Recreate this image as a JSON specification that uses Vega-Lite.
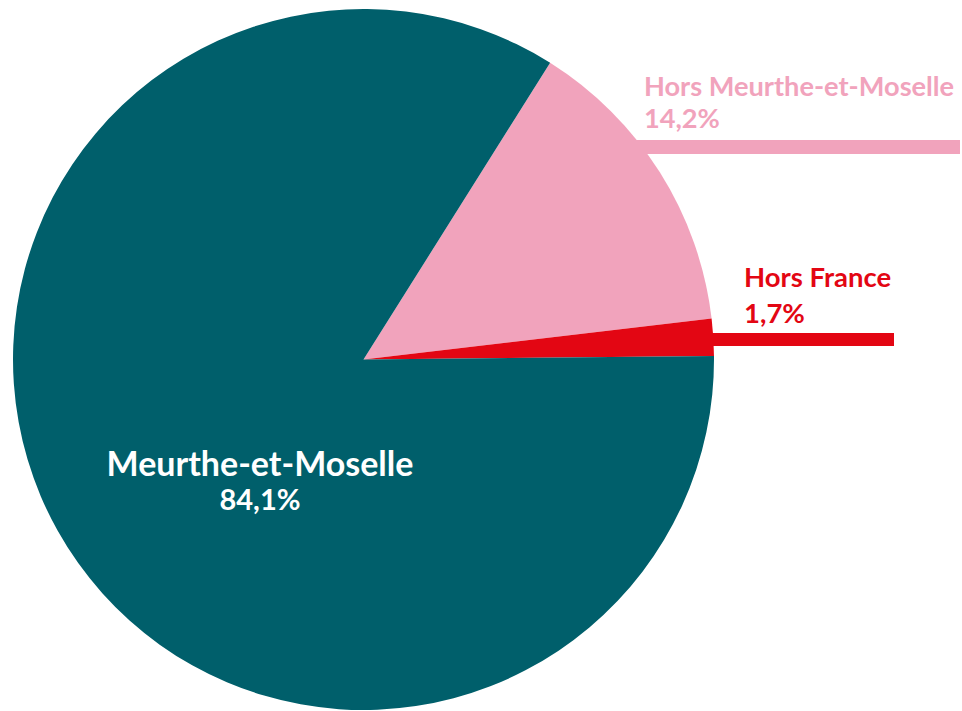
{
  "$schema": "https://vega.github.io/schema/vega-lite/v6.json",
  "width": 727,
  "height": 703,
  "autosize": {"type": "none"},
  "padding": {"left": 0, "top": 8, "right": 235, "bottom": 0},
  "background": "white",
  "config": {"view": {"stroke": null}, "text": {"font": "Lato", "fontWeight": "bold"}},
  "data": {"values": [
    {"category": "Hors Meurthe-et-Moselle", "share": 14.2, "pct": "14,2%", "rank": 1},
    {"category": "Hors France", "share": 1.7, "pct": "1,7%", "rank": 2},
    {"category": "Meurthe-et-Moselle", "share": 84.1, "pct": "84,1%", "rank": 3}
  ]},
  "layer": [
    {
      "mark": {"type": "arc", "outerRadius": 350.5},
      "encoding": {
        "theta": {"field": "share", "type": "quantitative", "stack": true, "scale": {"range": [0.5615, 6.8447]}},
        "order": {"field": "rank", "type": "quantitative"},
        "color": {"field": "category", "type": "nominal", "scale": {"domain": ["Hors Meurthe-et-Moselle", "Hors France", "Meurthe-et-Moselle"], "range": ["#F1A3BC", "#E30613", "#005F6B"]}, "legend": null}
      }
    },
    {
      "transform": [{"filter": "datum.category === 'Hors Meurthe-et-Moselle'"}],
      "mark": {"type": "rule", "strokeWidth": 14, "color": "#F1A3BC", "strokeCap": "butt"},
      "encoding": {"x": {"value": 630}, "x2": {"value": 960}, "y": {"value": 139}}
    },
    {
      "transform": [{"filter": "datum.category === 'Hors France'"}],
      "mark": {"type": "rule", "strokeWidth": 13, "color": "#E30613", "strokeCap": "butt"},
      "encoding": {"x": {"value": 705}, "x2": {"value": 894}, "y": {"value": 331.5}}
    },
    {
      "mark": {"type": "text", "radius": 350, "align": "left", "baseline": "alphabetic", "dx": -15.5, "dy": -76.6, "fontSize": 27.2},
      "encoding": {
        "theta": {"field": "share", "type": "quantitative", "stack": true, "scale": {"range": [0.5615, 6.8447]}},
        "order": {"field": "rank", "type": "quantitative"},
        "color": {"field": "category", "type": "nominal", "scale": {"domain": ["Hors Meurthe-et-Moselle", "Hors France", "Meurthe-et-Moselle"], "range": ["#F1A3BC", "#E30613", "#005F6B"]}, "legend": null},
        "text": {"condition": {"test": "datum.category === 'Hors Meurthe-et-Moselle'", "field": "category"}, "value": ""}
      }
    },
    {
      "mark": {"type": "text", "radius": 350, "align": "left", "baseline": "alphabetic", "dx": -15.5, "dy": -44.6, "fontSize": 27.2},
      "encoding": {
        "theta": {"field": "share", "type": "quantitative", "stack": true, "scale": {"range": [0.5615, 6.8447]}},
        "order": {"field": "rank", "type": "quantitative"},
        "color": {"field": "category", "type": "nominal", "scale": {"domain": ["Hors Meurthe-et-Moselle", "Hors France", "Meurthe-et-Moselle"], "range": ["#F1A3BC", "#E30613", "#005F6B"]}, "legend": null},
        "text": {"condition": {"test": "datum.category === 'Hors Meurthe-et-Moselle'", "field": "pct"}, "value": ""}
      }
    },
    {
      "mark": {"type": "text", "radius": 350, "align": "left", "baseline": "alphabetic", "dx": 31.2, "dy": -50.2, "fontSize": 27.5},
      "encoding": {
        "theta": {"field": "share", "type": "quantitative", "stack": true, "scale": {"range": [0.5615, 6.8447]}},
        "order": {"field": "rank", "type": "quantitative"},
        "color": {"field": "category", "type": "nominal", "scale": {"domain": ["Hors Meurthe-et-Moselle", "Hors France", "Meurthe-et-Moselle"], "range": ["#F1A3BC", "#E30613", "#005F6B"]}, "legend": null},
        "text": {"condition": {"test": "datum.category === 'Hors France'", "field": "category"}, "value": ""}
      }
    },
    {
      "mark": {"type": "text", "radius": 350, "align": "left", "baseline": "alphabetic", "dx": 31.2, "dy": -14.2, "fontSize": 27.5},
      "encoding": {
        "theta": {"field": "share", "type": "quantitative", "stack": true, "scale": {"range": [0.5615, 6.8447]}},
        "order": {"field": "rank", "type": "quantitative"},
        "color": {"field": "category", "type": "nominal", "scale": {"domain": ["Hors Meurthe-et-Moselle", "Hors France", "Meurthe-et-Moselle"], "range": ["#F1A3BC", "#E30613", "#005F6B"]}, "legend": null},
        "text": {"condition": {"test": "datum.category === 'Hors France'", "field": "pct"}, "value": ""}
      }
    },
    {
      "mark": {"type": "text", "radius": 150, "align": "center", "baseline": "alphabetic", "dx": 27.4, "dy": 43.8, "fontSize": 34, "fill": "white"},
      "encoding": {
        "theta": {"field": "share", "type": "quantitative", "stack": true, "scale": {"range": [0.5615, 6.8447]}},
        "order": {"field": "rank", "type": "quantitative"},
        "detail": {"field": "category", "type": "nominal"},
        "text": {"condition": {"test": "datum.category === 'Meurthe-et-Moselle'", "field": "category"}, "value": ""}
      }
    },
    {
      "mark": {"type": "text", "radius": 150, "align": "center", "baseline": "alphabetic", "dx": 27.4, "dy": 77.8, "fontSize": 29, "fill": "white"},
      "encoding": {
        "theta": {"field": "share", "type": "quantitative", "stack": true, "scale": {"range": [0.5615, 6.8447]}},
        "order": {"field": "rank", "type": "quantitative"},
        "detail": {"field": "category", "type": "nominal"},
        "text": {"condition": {"test": "datum.category === 'Meurthe-et-Moselle'", "field": "pct"}, "value": ""}
      }
    }
  ]
}
